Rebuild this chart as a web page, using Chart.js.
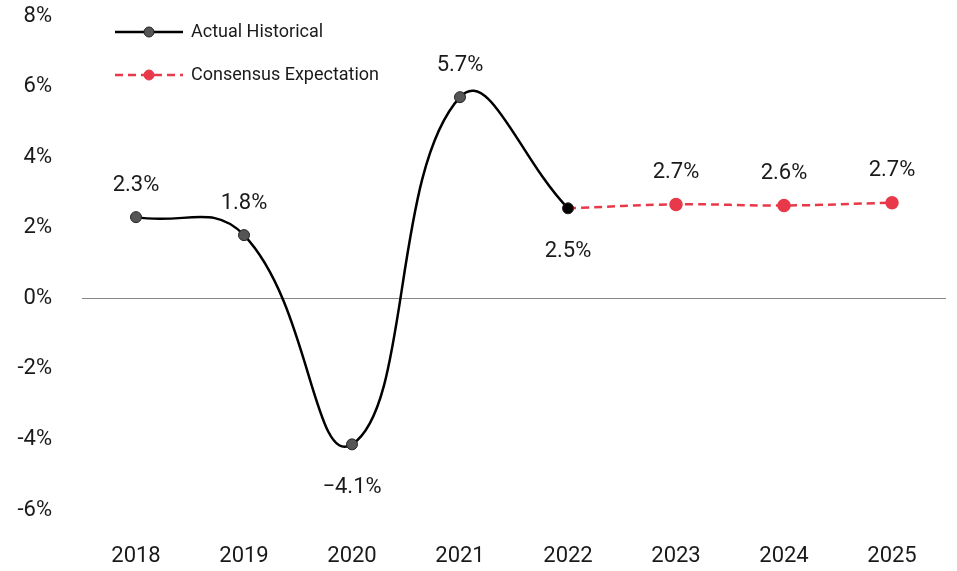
<!DOCTYPE html>
<html>
<head>
<meta charset="utf-8">
<script src="https://cdn.jsdelivr.net/npm/chart.js@4/dist/chart.umd.min.js"></script>
<style>
  html, body { margin: 0; padding: 0; background: #fff; }
  #wrap { width: 957px; height: 571px; }
</style>
</head>
<body>
<div id="wrap"><canvas id="gdpChart"></canvas></div>
<script>
// Data
const years = ['2018', '2019', '2020', '2021', '2022', '2023', '2024', '2025'];
const actualValues = [2.3, 1.79, -4.14, 5.7, 2.55, null, null, null];
const consensusValues = [null, null, null, null, 2.55, 2.66, 2.63, 2.71];
const labelText = ['2.3%', '1.8%', '\u22124.1%', '5.7%', '2.5%', '2.7%', '2.6%', '2.7%'];
const labelBelow = [false, false, true, false, true, false, false, false];

const FONT = '"Roboto", "Liberation Sans Narrow", sans-serif';

// Value labels next to each point
const valueLabels = {
  id: 'valueLabels',
  afterDatasetsDraw(chart) {
    const ctx = chart.ctx;
    const x = chart.scales.x, y = chart.scales.y;
    ctx.save();
    ctx.font = '22px ' + FONT;
    ctx.fillStyle = '#1a1a1a';
    ctx.textAlign = 'center';
    ctx.textBaseline = 'middle';
    years.forEach((yr, i) => {
      const v = actualValues[i] != null ? actualValues[i] : consensusValues[i];
      const px = x.getPixelForValue(i);
      const py = y.getPixelForValue(v);
      ctx.fillText(labelText[i], px, labelBelow[i] ? py + 43 : py - 32);
    });
    ctx.restore();
  }
};

// Legend with line + marker samples, top left
const lineLegend = {
  id: 'lineLegend',
  afterDraw(chart) {
    const ctx = chart.ctx;
    const items = [
      { text: 'Actual Historical', color: '#000', dot: '#555', edge: '#222', dash: [], y: 32 },
      { text: 'Consensus Expectation', color: '#e8394a', dot: '#e8394a', edge: '#e8394a', dash: [8, 5], y: 75 }
    ];
    ctx.save();
    items.forEach(it => {
      ctx.strokeStyle = it.color;
      ctx.lineWidth = 2.5;
      ctx.setLineDash(it.dash);
      ctx.beginPath();
      ctx.moveTo(115, it.y);
      ctx.lineTo(183, it.y);
      ctx.stroke();
      ctx.setLineDash([]);
      ctx.beginPath();
      ctx.arc(149, it.y, 5, 0, Math.PI * 2);
      ctx.fillStyle = it.dot;
      ctx.fill();
      ctx.lineWidth = 1;
      ctx.strokeStyle = it.edge;
      ctx.stroke();
      ctx.font = '18px ' + FONT;
      ctx.fillStyle = '#1a1a1a';
      ctx.textAlign = 'left';
      ctx.textBaseline = 'middle';
      ctx.fillText(it.text, 191, it.y);
    });
    ctx.restore();
  }
};

new Chart(document.getElementById('gdpChart'), {
  type: 'line',
  data: {
    labels: years,
    datasets: [
      {
        label: 'Actual Historical',
        data: actualValues,
        borderColor: '#000',
        borderWidth: 2.5,
        tension: 0.45,
        pointRadius: 5.5,
        pointBackgroundColor: ['#555', '#555', '#555', '#555', '#000', '#555', '#555', '#555'],
        pointBorderColor: '#222',
        pointBorderWidth: 1
      },
      {
        label: 'Consensus Expectation',
        data: consensusValues,
        borderColor: '#e8394a',
        borderWidth: 2.5,
        borderDash: [8, 5],
        tension: 0.45,
        pointRadius: [0, 0, 0, 0, 0, 5.5, 5.5, 5.5],
        pointBackgroundColor: '#e8394a',
        pointBorderColor: '#e8394a'
      }
    ]
  },
  options: {
    responsive: true,
    maintainAspectRatio: false,
    animation: false,
    layout: { autoPadding: false, padding: { top: 16, right: 11, left: 0, bottom: 0 } },
    plugins: {
      legend: { display: false },
      tooltip: { enabled: false }
    },
    scales: {
      x: {
        offset: true,
        grid: { display: false },
        border: { display: false },
        ticks: { color: '#1a1a1a', font: { family: FONT, size: 22 }, padding: 25 },
        afterFit: s => { s.height = 61; }
      },
      y: {
        min: -6,
        max: 8,
        ticks: {
          stepSize: 2,
          color: '#1a1a1a',
          font: { family: FONT, size: 22 },
          padding: 30,
          callback: v => v + '%'
        },
        border: { display: false },
        grid: {
          drawTicks: false,
          color: ctx => ctx.tick && ctx.tick.value === 0 ? '#888' : 'rgba(0,0,0,0)',
          lineWidth: 1
        },
        afterFit: s => { s.width = 82; s.paddingTop = 0; s.paddingBottom = 0; }
      }
    }
  },
  plugins: [valueLabels, lineLegend]
});
</script>
</body>
</html>
